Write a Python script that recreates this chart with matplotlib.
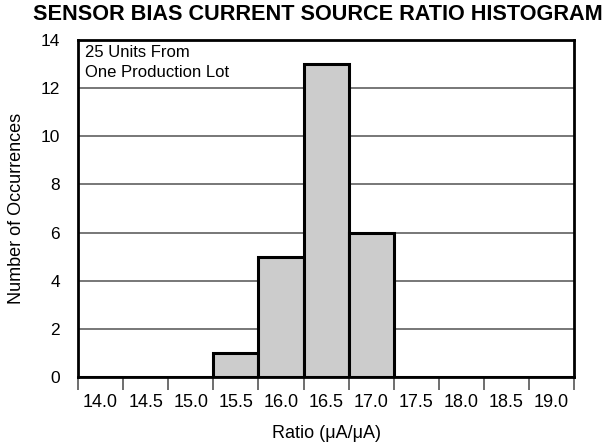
import matplotlib
matplotlib.use("Agg")
import matplotlib.pyplot as plt

plt.rcParams['font.family'] = ['Liberation Sans', 'DejaVu Sans']

# bin labels (bin centres) and counts
bin_labels = ['14.0', '14.5', '15.0', '15.5', '16.0', '16.5',
              '17.0', '17.5', '18.0', '18.5', '19.0']
counts = [0, 0, 0, 1, 5, 13, 6, 0, 0, 0, 0]
y_ticks = [0, 2, 4, 6, 8, 10, 12, 14]

fig = plt.figure(figsize=(6.05, 4.46), dpi=100)
ax = fig.add_axes([0.129, 0.1547, 0.820, 0.7556])

n = len(bin_labels)
pos = list(range(n))
ax.bar(pos, counts, width=1.0, align='edge', color='#cccccc',
       edgecolor='black', linewidth=2.2, zorder=3)

ax.set_xlim(0, n)
ax.set_ylim(0, 14)

# ticks at bin edges, labels at bin centres
ax.set_xticks(list(range(n + 1)))
ax.set_xticklabels([])
ax.set_xticks([p + 0.5 for p in pos], minor=True)
ax.set_xticklabels(bin_labels, minor=True)
ax.tick_params(axis='x', which='major', length=9, width=1.2, color='#555555',
               direction='out')
ax.tick_params(axis='x', which='minor', length=0, pad=12, labelsize=13)

ax.set_yticks(y_ticks)
ax.tick_params(axis='y', length=0, pad=13, labelsize=12.5)
ax.grid(axis='y', color='#777777', linewidth=1.4, zorder=1)

for s in ax.spines.values():
    s.set_linewidth(2)
    s.set_color('black')
    s.set_zorder(4)

ax.text(0.015, 0.985, '25 Units From\nOne Production Lot', transform=ax.transAxes,
        ha='left', va='top', fontsize=12, linespacing=1.45,
        bbox=dict(facecolor='white', edgecolor='none', pad=1), zorder=5)

ax.set_xlabel('Ratio (\u03bcA/\u03bcA)', fontsize=13, labelpad=10)
ax.set_ylabel('Number of Occurrences', fontsize=13)
ax.yaxis.set_label_coords(-0.106, 0.5)
fig.text(0.997, 0.99, 'SENSOR BIAS CURRENT SOURCE RATIO HISTOGRAM',
         ha='right', va='top', fontsize=15.6, fontweight='bold')

fig.savefig('out.png', dpi=100)
